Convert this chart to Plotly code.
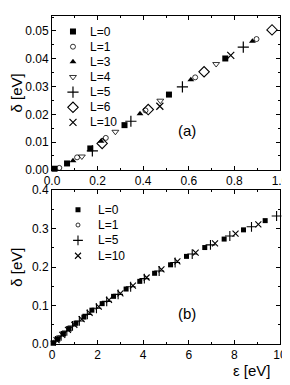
import plotly.graph_objects as go

# Panel (a)
a_L0_x = [0.011, 0.066, 0.168, 0.318, 0.513, 0.760]
a_L0_y = [0.0004, 0.0023, 0.0077, 0.0161, 0.0271, 0.0401]
a_L1_x = [0.032, 0.110, 0.236, 0.410, 0.628, 0.897]
a_L1_y = [0.0007, 0.0045, 0.0115, 0.0214, 0.0333, 0.0471]
a_L3_x = [0.092, 0.215, 0.386, 0.609, 0.879]
a_L3_y = [0.0033, 0.0103, 0.0202, 0.0324, 0.0463]
a_L4_x = [0.131, 0.278, 0.475, 0.720]
a_L4_y = [0.0048, 0.0137, 0.0249, 0.0381]
a_L5_x = [0.177, 0.346, 0.572, 0.839]
a_L5_y = [0.0068, 0.0175, 0.0299, 0.0442]
a_L6_x = [0.220, 0.422, 0.667, 0.965]
a_L6_y = [0.0095, 0.0217, 0.0353, 0.0504]
a_L10_x = [0.473, 0.784]
a_L10_y = [0.0229, 0.0412]

# Panel (b)
b_L0_x = [0.05, 0.25, 0.5, 0.75, 1.05, 1.4, 1.75, 2.2, 2.7, 3.25, 3.85, 4.5,
          5.2, 5.9, 6.7, 7.55, 8.4, 9.35]
b_L0_y = [0.002, 0.013, 0.027, 0.040, 0.054, 0.070, 0.088, 0.105, 0.124, 0.143,
          0.163, 0.184, 0.206, 0.228, 0.251, 0.273, 0.297, 0.321]
b_L1_x = [0.1, 0.3]
b_L1_y = [0.005, 0.016]
b_L5_x = [0.15, 0.4, 0.65, 0.9, 1.2, 1.55, 1.95, 2.4, 2.9, 3.45, 4.05, 4.7,
          5.4, 6.15, 6.95, 7.8, 8.75, 9.85]
b_L5_y = [0.008, 0.021, 0.034, 0.047, 0.060, 0.077, 0.093, 0.111, 0.129, 0.149,
          0.170, 0.190, 0.212, 0.234, 0.258, 0.281, 0.305, 0.333]
b_L10_x = [0.2, 0.45, 0.7, 0.98, 1.3, 1.65, 2.05, 2.5, 3.0, 3.55, 4.15, 4.8,
           5.5, 6.3, 7.15, 8.05, 9.05]
b_L10_y = [0.010, 0.024, 0.037, 0.050, 0.065, 0.081, 0.097, 0.115, 0.132, 0.152,
           0.173, 0.194, 0.215, 0.238, 0.262, 0.287, 0.311]

FONT = "Liberation Sans, Arial, sans-serif"
BLK = "black"

fig = go.Figure()

# series styles: (name, symbol, size, line width)
STY_A = [("L=0", "square", 6, 0), ("L=1", "circle-open", 5, 0.8),
         ("L=3", "triangle-up", 6, 0), ("L=4", "triangle-down-open", 6, 0.8),
         ("L=5", "cross-thin-open", 8, 1.2), ("L=6", "diamond-open", 8, 1.1),
         ("L=10", "x-thin-open", 7, 1.2)]
DATA_A = [(a_L0_x, a_L0_y), (a_L1_x, a_L1_y), (a_L3_x, a_L3_y), (a_L4_x, a_L4_y),
          (a_L5_x, a_L5_y), (a_L6_x, a_L6_y), (a_L10_x, a_L10_y)]
STY_B = [("L=0", "square", 5, 0), ("L=1", "circle-open", 4, 0.8),
         ("L=5", "cross-thin-open", 7, 1.1), ("L=10", "x-thin-open", 6, 1.1)]
DATA_B = [(b_L0_x, b_L0_y), (b_L1_x, b_L1_y), (b_L5_x, b_L5_y), (b_L10_x, b_L10_y)]


def mk(symbol, size, lw):
    return dict(symbol=symbol, size=size, color=BLK, line=dict(color=BLK, width=lw))


for (name, sym, sz, lw), (x, y) in zip(STY_A, DATA_A):
    fig.add_trace(go.Scatter(x=x, y=y, mode="markers", name=name, xaxis="x", yaxis="y",
                             marker=mk(sym, sz, lw), showlegend=False, cliponaxis=False))
for (name, sym, sz, lw), (x, y) in zip(STY_B, DATA_B):
    fig.add_trace(go.Scatter(x=x, y=y, mode="markers", name=name, xaxis="x2", yaxis="y2",
                             marker=mk(sym, sz, lw), showlegend=False, cliponaxis=False))

# Legend keys, drawn on hidden unit axes laid over each panel
LEG_A_X, LEG_A_TX, LEG_A_Y0, LEG_A_DY = 0.092, 0.157, 0.899, 0.0985
LEG_B_X, LEG_B_TX, LEG_B_Y0, LEG_B_DY = 0.114, 0.195, 0.874, 0.1

annotations = []
for i, (name, sym, sz, lw) in enumerate(STY_A):
    yy = LEG_A_Y0 - i * LEG_A_DY
    fig.add_trace(go.Scatter(x=[LEG_A_X], y=[yy], mode="markers", xaxis="x3", yaxis="y3",
                             marker=mk(sym, sz, lw), showlegend=False, hoverinfo="skip"))
    annotations.append(dict(text=name, x=LEG_A_TX, y=yy, xref="x3", yref="y3",
                            xanchor="left", yanchor="middle", showarrow=False,
                            font=dict(family=FONT, size=12, color=BLK)))
for i, (name, sym, sz, lw) in enumerate(STY_B):
    yy = LEG_B_Y0 - i * LEG_B_DY
    fig.add_trace(go.Scatter(x=[LEG_B_X], y=[yy], mode="markers", xaxis="x4", yaxis="y4",
                             marker=mk(sym, sz, lw), showlegend=False, hoverinfo="skip"))
    annotations.append(dict(text=name, x=LEG_B_TX, y=yy, xref="x4", yref="y4",
                            xanchor="left", yanchor="middle", showarrow=False,
                            font=dict(family=FONT, size=12, color=BLK)))

annotations += [
    dict(text="(a)", x=0.593, y=0.014, xref="x", yref="y", showarrow=False,
         font=dict(family=FONT, size=15, color=BLK)),
    dict(text="(b)", x=5.93, y=0.080, xref="x2", yref="y2", showarrow=False,
         font=dict(family=FONT, size=15, color=BLK)),
    dict(text="ε [eV]", x=0.97, y=-0.05, xref="paper", yref="paper",
         xanchor="right", yanchor="top", showarrow=False,
         font=dict(family=FONT, size=15, color=BLK)),
]

axis_common = dict(showline=True, linecolor=BLK, linewidth=1, mirror="ticks",
                   ticks="inside", ticklen=4, tickcolor=BLK, showgrid=False,
                   zeroline=False, tickfont=dict(family=FONT, size=12, color=BLK),
                   minor=dict(ticks="inside", ticklen=2, tickcolor=BLK))
hidden = dict(visible=False, range=[0, 1], fixedrange=True, showgrid=False, zeroline=False)
TOP_DOM = [0.531, 1.0]
BOT_DOM = [0.0, 0.4687]

fig.update_layout(
    width=282, height=377,
    margin=dict(l=37, r=10, t=1, b=41),
    paper_bgcolor="white", plot_bgcolor="white",
    font=dict(family=FONT, color=BLK),
    showlegend=False,
    xaxis=dict(domain=[0, 1], anchor="y", range=[0, 1.0], dtick=0.2,
               tickformat=".1f", minor_dtick=0.1, **axis_common),
    yaxis=dict(domain=TOP_DOM, anchor="x", range=[0, 0.0554], dtick=0.01,
               tickformat=".2f", minor_dtick=0.005,
               title=dict(text="δ [eV]", font=dict(family=FONT, size=15), standoff=6),
               **axis_common),
    xaxis2=dict(domain=[0, 1], anchor="y2", range=[0, 10], dtick=2,
                minor_dtick=1, **axis_common),
    yaxis2=dict(domain=BOT_DOM, anchor="x2", range=[0, 0.4], dtick=0.1,
                tickformat=".1f", minor_dtick=0.05,
                title=dict(text="δ [eV]", font=dict(family=FONT, size=15), standoff=6),
                **axis_common),
    xaxis3=dict(overlaying="x", anchor="y3", **hidden),
    yaxis3=dict(overlaying="y", anchor="x3", **hidden),
    xaxis4=dict(overlaying="x2", anchor="y4", **hidden),
    yaxis4=dict(overlaying="y2", anchor="x4", **hidden),
    annotations=annotations,
)

fig.write_html("out.html")
